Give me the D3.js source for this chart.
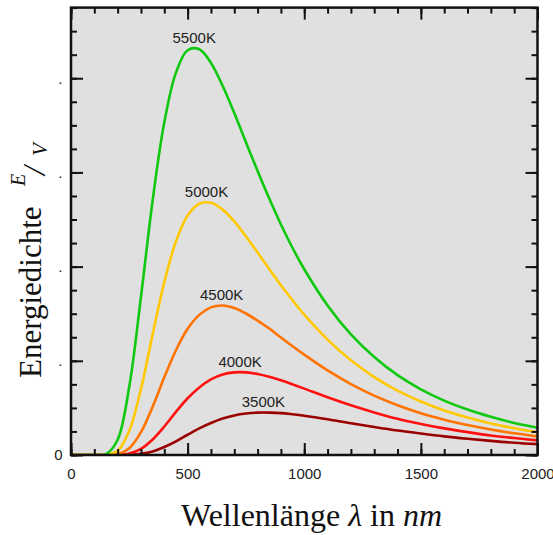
<!DOCTYPE html>
<html>
<head>
<meta charset="utf-8">
<script src="https://cdn.jsdelivr.net/npm/d3@7"></script>
<style>
  body { margin: 0; background: #fff; }
  svg { display: block; }
</style>
</head>
<body>
<svg id="chart" width="553" height="535"></svg>
<script>
// wavelengths in nm, energy density in arbitrary units
var wavelengths = [0, 100, 150, 200, 250, 300, 350, 400, 450, 500, 550, 600, 650, 700, 750, 800, 850, 900, 950, 1000, 1100, 1200, 1300, 1400, 1500, 1600, 1700, 1800, 1900, 2000];
var temps = ["3500K", "4000K", "4500K", "5000K", "5500K"];
var e3500 = [0, 0, 0, 0, 0.01, 0.05, 0.15, 0.34, 0.58, 0.86, 1.13, 1.36, 1.55, 1.68, 1.76, 1.80, 1.80, 1.78, 1.73, 1.67, 1.52, 1.35, 1.19, 1.04, 0.91, 0.79, 0.69, 0.60, 0.52, 0.46];
var e4000 = [0, 0, 0, 0, 0.06, 0.26, 0.66, 1.21, 1.83, 2.41, 2.87, 3.21, 3.42, 3.51, 3.51, 3.44, 3.32, 3.17, 3.00, 2.82, 2.45, 2.11, 1.81, 1.54, 1.32, 1.13, 0.97, 0.83, 0.72, 0.62];
var e4500 = [0, 0, 0, 0.04, 0.29, 0.97, 2.05, 3.30, 4.45, 5.36, 5.95, 6.27, 6.35, 6.24, 6.01, 5.71, 5.37, 4.99, 4.62, 4.26, 3.59, 3.01, 2.52, 2.11, 1.77, 1.50, 1.27, 1.08, 0.92, 0.79];
var e5000 = [0, 0, 0.01, 0.18, 1.03, 2.81, 5.12, 7.34, 9.07, 10.17, 10.67, 10.71, 10.42, 9.92, 9.28, 8.60, 7.90, 7.21, 6.57, 5.96, 4.90, 4.02, 3.31, 2.73, 2.27, 1.89, 1.59, 1.34, 1.14, 0.97];
var e5500 = [0, 0, 0.04, 0.65, 2.92, 6.72, 10.81, 14.13, 16.24, 17.19, 17.23, 16.65, 15.68, 14.52, 13.28, 12.06, 10.89, 9.79, 8.79, 7.89, 6.35, 5.12, 4.16, 3.39, 2.79, 2.31, 1.93, 1.62, 1.36, 1.16];
var series = [e3500, e4000, e4500, e5000, e5500];
var colors = ["#9b0000", "#ff1010", "#ff7300", "#ffc800", "#10c810"];

var xMajor = [0, 500, 1000, 1500, 2000];
var xMinor = d3.range(0, 2001, 100);
var yMajor = [0, 4, 8, 12, 16];
var yMinor = d3.range(0, 20, 1);

var svg = d3.select("#chart");
var pL = 71, pR = 537.5, pT = 7.6, pB = 455;

var x = d3.scaleLinear().domain([0, 2000]).range([pL, pR]);
var y = d3.scaleLinear().domain([0, 19]).range([pB, pT]);

svg.append("rect")
   .attr("x", pL).attr("y", pT)
   .attr("width", pR - pL).attr("height", pB - pT)
   .style("fill", "#e0e0e0");

svg.append("clipPath").attr("id", "clip")
   .append("rect").attr("x", pL).attr("y", pT).attr("width", pR - pL).attr("height", pB - pT);

var line = d3.line()
   .x(function(d, i) { return x(wavelengths[i]); })
   .y(function(d) { return y(Math.max(d, 0)); })
   .curve(d3.curveCatmullRom.alpha(0.5));

var g = svg.append("g").attr("clip-path", "url(#clip)");
series.forEach(function(s, k) {
  g.append("path").attr("d", line(s))
   .style("fill", "none").style("stroke", colors[k]).style("stroke-width", 2.6);
});

// labels at the peak of each curve
series.forEach(function(s, k) {
  var i = d3.maxIndex(s);
  var a = s[i - 1], b = s[i], c = s[i + 1];
  var off = 0.5 * (a - c) / (a - 2 * b + c);
  var step = (wavelengths[i + 1] - wavelengths[i - 1]) / 2;
  var peakX = wavelengths[i] + off * step;
  var peakY = b - 0.25 * (a - c) * off;
  svg.append("text").attr("x", x(peakX)).attr("y", y(peakY) - 5)
     .text(temps[k]).style("font-family", "Liberation Sans, Arial, sans-serif")
     .style("font-size", "15px").style("fill", "#222").attr("text-anchor", "middle");
});

function ticks(axis, vals, size, labels, pad) {
  return axis.tickValues(vals).tickSizeInner(-size).tickSizeOuter(0)
             .tickPadding(pad).tickFormat(labels ? labels : function() { return ""; });
}
var noLabel = null;
var xLabel = function(d) { return d; };
var yLabel = function(d) { return d === 0 ? "0" : "."; };

// minor ticks
svg.append("g").attr("transform", "translate(0," + pB + ")").call(ticks(d3.axisBottom(x), xMinor, 6, noLabel, 3));
svg.append("g").attr("transform", "translate(0," + pT + ")").call(ticks(d3.axisTop(x), xMinor, 6, noLabel, 3));
svg.append("g").attr("transform", "translate(" + pL + ",0)").call(ticks(d3.axisLeft(y), yMinor, 6, noLabel, 3));
svg.append("g").attr("transform", "translate(" + pR + ",0)").call(ticks(d3.axisRight(y), yMinor, 6, noLabel, 3));
// major ticks
svg.append("g").attr("transform", "translate(0," + pB + ")").call(ticks(d3.axisBottom(x), xMajor, 12, xLabel, 13.5));
svg.append("g").attr("transform", "translate(0," + pT + ")").call(ticks(d3.axisTop(x), xMajor, 12, noLabel, 3));
svg.append("g").attr("transform", "translate(" + pL + ",0)").call(ticks(d3.axisLeft(y), yMajor, 12, yLabel, 8.5));
svg.append("g").attr("transform", "translate(" + pR + ",0)").call(ticks(d3.axisRight(y), yMajor, 12, noLabel, 3));

svg.selectAll(".tick line").style("stroke", "#111").style("stroke-width", 2);
svg.selectAll(".domain").remove();
svg.selectAll(".tick text").style("font-family", "Liberation Sans, Arial, sans-serif")
   .style("font-size", "15px").style("fill", "#222");

svg.append("rect")
   .attr("x", pL).attr("y", pT)
   .attr("width", pR - pL).attr("height", pB - pT)
   .style("fill", "none").style("stroke", "#111").style("stroke-width", 2.5);

// axis titles
var xt = svg.append("text").attr("x", 181).attr("y", 526)
   .style("font-family", "Liberation Serif, Times New Roman, serif").style("font-size", "32px").style("fill", "#111");
xt.append("tspan").text("Wellenlänge ");
xt.append("tspan").text("λ").style("font-style", "italic");
xt.append("tspan").text(" in ");
xt.append("tspan").text("nm").style("font-style", "italic");

var yt = svg.append("text").attr("transform", "translate(41,378) rotate(-90)")
   .style("font-family", "Liberation Serif, Times New Roman, serif").style("font-size", "31px").style("fill", "#111");
yt.append("tspan").text("Energiedichte");
yt.append("tspan").attr("x", 192).attr("dy", -16).text("E").style("font-style", "italic").style("font-size", "20px");
yt.append("tspan").attr("x", 203).attr("dy", 20).text("/").style("font-style", "italic").style("font-size", "32px");
yt.append("tspan").attr("x", 222).attr("dy", 2).text("V").style("font-style", "italic").style("font-size", "21px");
</script>
</body>
</html>
